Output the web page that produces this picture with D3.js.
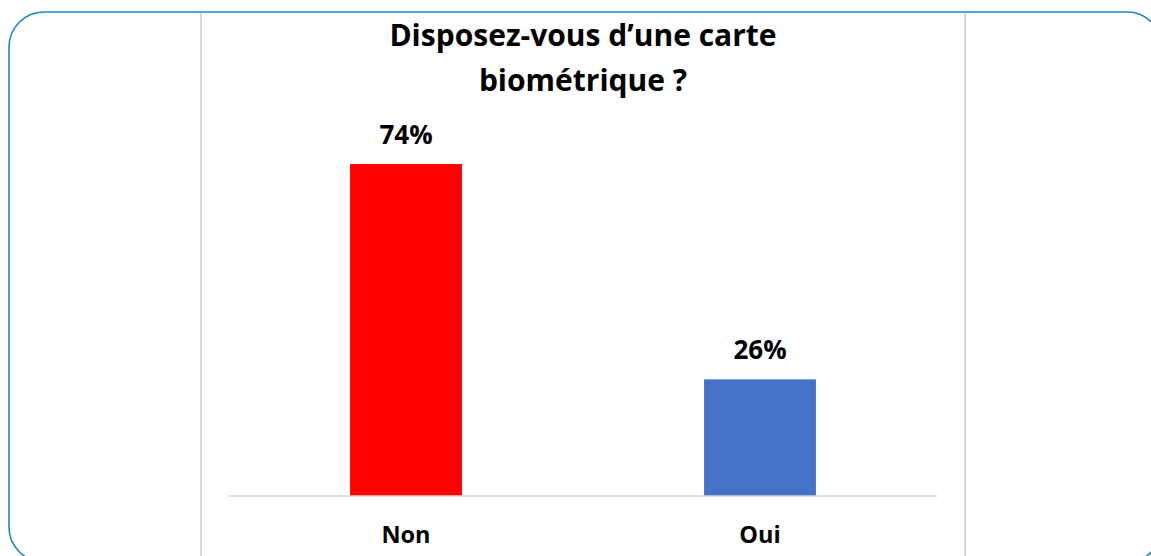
<!DOCTYPE html>
<html><head><meta charset="utf-8">
<script src="https://cdn.jsdelivr.net/npm/d3@7"></script>
<style>html,body{margin:0;padding:0;background:#fff;overflow:hidden}</style>
</head><body>
<svg id="c" width="1151" height="556"></svg>
<script>
const categories = ["Non", "Oui"];
const values = [74, 26];
const valueLabels = ["74%", "26%"];
const colors = ["#FF0000", "#4472C4"];
const titleLines = ["Disposez-vous d\u2019une carte", "biom\u00e9trique ?"];

const svg = d3.select("#c");
const font = "'Open Sans', Lato, sans-serif";

// outer rounded frame
svg.append("rect").attr("x", 9).attr("y", 12).attr("width", 1153).attr("height", 550)
  .attr("rx", 35).attr("ry", 35).attr("fill", "none").attr("stroke", "#1C86C2").attr("stroke-width", 1.6);

// chart area side borders
[201, 965].forEach(x => svg.append("line").attr("x1", x).attr("x2", x).attr("y1", 13).attr("y2", 556)
  .attr("stroke", "#D9D9D9").attr("stroke-width", 2));

const x = d3.scaleBand().domain(categories).range([229, 937]).paddingInner(0.684).paddingOuter(0.342);
const y = d3.scaleLinear().domain([0, 80]).range([496, 137.1]);

svg.append("g").selectAll("rect").data(categories).join("rect")
  .attr("x", d => x(d)).attr("width", x.bandwidth())
  .attr("y", (d, i) => y(values[i])).attr("height", (d, i) => y(0) - y(values[i]))
  .attr("fill", (d, i) => colors[i]);

// baseline axis
const xAxis = d3.axisBottom(x).tickSize(0).tickPadding(0);
const ax = svg.append("g").attr("transform", `translate(0,${y(0)})`).call(xAxis);
ax.select(".domain").attr("stroke", "#D9D9D9").attr("stroke-width", 1.5)
  .attr("d", `M${x.range()[0]},0H${x.range()[1]}`);
ax.selectAll(".tick text").attr("dy", null).attr("y", 47)
  .attr("font-family", font).attr("font-weight", "bold").attr("font-size", 23.5).attr("fill", "#000");

// value labels
svg.append("g").selectAll("text").data(categories).join("text")
  .attr("x", d => x(d) + x.bandwidth() / 2).attr("y", (d, i) => y(values[i]) - 20)
  .attr("text-anchor", "middle").attr("font-family", font).attr("font-weight", "bold")
  .attr("font-size", 26).attr("fill", "#000").text((d, i) => valueLabels[i]);

// title
svg.append("g").selectAll("text").data(titleLines).join("text")
  .attr("x", 583).attr("y", (d, i) => 46 + i * 45)
  .attr("text-anchor", "middle").attr("font-family", font).attr("font-weight", "bold")
  .attr("font-size", 30).attr("fill", "#000").text(d => d);
</script>
</body></html>
